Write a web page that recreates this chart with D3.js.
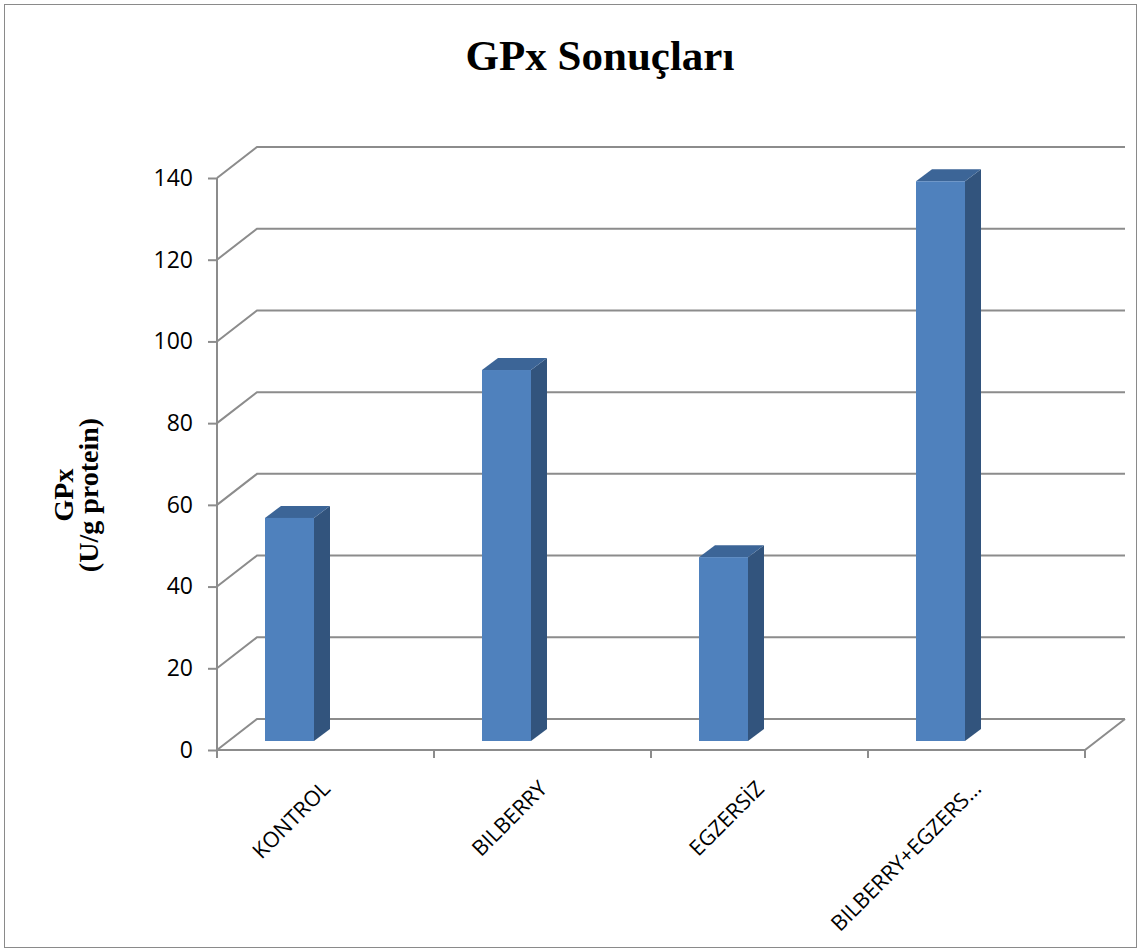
<!DOCTYPE html>
<html>
<head>
<meta charset="utf-8">
<script src="https://cdn.jsdelivr.net/npm/d3@7"></script>
<style>
  html, body { margin: 0; padding: 0; background: #fff; }
  svg { display: block; }
</style>
</head>
<body>
<svg id="chart" width="1140" height="952"></svg>
<script>
// GPx activity per group (U/g protein)
const categories = ["KONTROL", "BILBERRY", "EGZERSİZ", "BILBERRY+EGZERS…"];
const gpxValues = [54.6, 90.8, 45.0, 137.0];
const yTicks = [0, 20, 40, 60, 80, 100, 120, 140];
const chartTitle = "GPx Sonuçları";
const yTitleLines = ["GPx", "(U/g protein)"];

const svg = d3.select("#chart");
const W = 1140, H = 952;

// outer chart frame
svg.append("rect")
  .attr("x", 4.5).attr("y", 4.5)
  .attr("width", W - 8).attr("height", H - 9)
  .attr("fill", "#fff").attr("stroke", "#8a8a8a").attr("stroke-width", 1);

// plot geometry (front plane + oblique depth of the 3D walls)
const front = { left: 217, right: 1085, bottom: 750, top: 178 };
const depth = { dx: 40, dy: -31 };
const barShift = { dx: 0, dy: -9 };     // bars sit slightly behind the front edge
const barSide = { dx: 16, dy: -12 };    // visible depth of each bar

const y = d3.scaleLinear().domain([0, 140]).range([front.bottom, front.top]);
const x = d3.scaleBand().domain(categories).range([front.left, front.right]).paddingInner(0).paddingOuter(0);

const gridColor = "#8c8c8c";
const g = svg.append("g");

// back wall gridlines with their diagonal runs to the value axis
yTicks.forEach(t => {
  const yy = y(t);
  g.append("path")
    .attr("d", `M${front.left},${yy} L${front.left + depth.dx},${yy + depth.dy} L${front.right + depth.dx},${yy + depth.dy}`)
    .attr("fill", "none").attr("stroke", gridColor).attr("stroke-width", 2);
});

// floor front edge and right side edge
g.append("path")
  .attr("d", `M${front.left},${front.bottom} L${front.right},${front.bottom} L${front.right + depth.dx},${front.bottom + depth.dy}`)
  .attr("fill", "none").attr("stroke", gridColor).attr("stroke-width", 2);

// value axis
const yAxis = d3.axisLeft(y).tickValues(yTicks).tickSize(9).tickPadding(15);
const yAxisG = svg.append("g").attr("transform", `translate(${front.left},0)`).call(yAxis);
yAxisG.select(".domain").attr("stroke", gridColor).attr("stroke-width", 2)
  .attr("d", `M0,${front.top}V${front.bottom}`);
yAxisG.selectAll(".tick line").attr("stroke", gridColor).attr("stroke-width", 2);
yAxisG.selectAll(".tick text")
  .attr("font-family", "'Open Sans', sans-serif")
  .attr("font-size", 23).attr("fill", "#000");

// category axis ticks at band edges
const edges = categories.map(c => x(c)).concat([front.right]);
svg.append("g").selectAll("line").data(edges).join("line")
  .attr("x1", d => d).attr("x2", d => d)
  .attr("y1", front.bottom).attr("y2", front.bottom + 8)
  .attr("stroke", gridColor).attr("stroke-width", 2);

// category labels, rotated
svg.append("g").selectAll("text").data(categories).join("text")
  .attr("transform", d => `translate(${x(d) + x.bandwidth() / 2 + 6},${front.bottom + 40}) rotate(-45)`)
  .attr("text-anchor", "end")
  .attr("font-family", "'Open Sans', sans-serif")
  .attr("font-size", 21.5).attr("fill", "#000")
  .text(d => d);

// 3D bars
const barFront = "#4f81bd", barTop = "#3c6597", barSideCol = "#32547d";
const barOffset = 48, barWidth = 49;
const bars = svg.append("g").selectAll("g").data(categories.map((c, i) => ({ c, v: gpxValues[i] }))).join("g");
bars.each(function(d) {
  const sel = d3.select(this);
  const x0 = x(d.c) + barOffset + barShift.dx;
  const x1 = x0 + barWidth;
  const yb = y(0) + barShift.dy;
  const yt = y(d.v) + barShift.dy;
  // side face
  sel.append("path")
    .attr("d", `M${x1},${yt} L${x1 + barSide.dx},${yt + barSide.dy} L${x1 + barSide.dx},${yb + barSide.dy} L${x1},${yb} Z`)
    .attr("fill", barSideCol);
  // top face
  sel.append("path")
    .attr("d", `M${x0},${yt} L${x0 + barSide.dx},${yt + barSide.dy} L${x1 + barSide.dx},${yt + barSide.dy} L${x1},${yt} Z`)
    .attr("fill", barTop);
  // front face
  sel.append("rect")
    .attr("x", x0).attr("y", yt).attr("width", barWidth).attr("height", yb - yt)
    .attr("fill", barFront);
});

// chart title
svg.append("text")
  .attr("x", 600).attr("y", 70)
  .attr("text-anchor", "middle")
  .attr("font-family", "'Liberation Serif', 'Times New Roman', serif")
  .attr("font-weight", "bold").attr("font-size", 43).attr("fill", "#000")
  .text(chartTitle);

// value axis title (two rotated lines)
const yTitle = svg.append("text")
  .attr("transform", "translate(0,495) rotate(-90)")
  .attr("text-anchor", "middle")
  .attr("font-family", "'Liberation Serif', 'Times New Roman', serif")
  .attr("font-weight", "bold").attr("font-size", 28).attr("fill", "#000");
yTitle.append("tspan").attr("x", 0).attr("y", 73).text(yTitleLines[0]);
yTitle.append("tspan").attr("x", 0).attr("y", 98).text(yTitleLines[1]);
</script>
</body>
</html>
